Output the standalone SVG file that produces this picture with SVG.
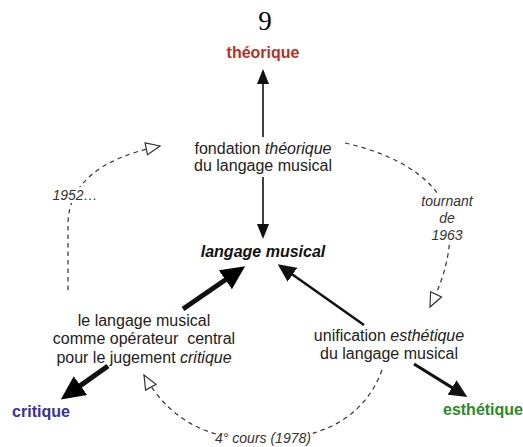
<svg xmlns="http://www.w3.org/2000/svg" width="523" height="447" viewBox="0 0 523 447">
  <defs>
    <style>
      text { font-family: "Liberation Sans", Arial, sans-serif; text-anchor: middle; }
      .node { font-size: 16px; fill: #222; }
      .pole { font-size: 16px; font-weight: bold; }
      .note { font-size: 14px; font-style: italic; fill: #333; stroke: #fff; stroke-width: 6px; stroke-linejoin: round; paint-order: stroke; }
      .link { fill: none; stroke: #111; }
      .dash { fill: none; stroke: #333; stroke-width: 1.2; stroke-dasharray: 4.5 4; }
    </style>
    <!-- filled arrowheads, drawn beyond the end of their line -->
    <marker id="head-s" markerUnits="userSpaceOnUse" viewBox="0 0 15 12" refX="1" refY="6" markerWidth="15" markerHeight="12" orient="auto">
      <path d="M0,0 L15,6 L0,12 Z" fill="#111"/>
    </marker>
    <marker id="head-m" markerUnits="userSpaceOnUse" viewBox="0 0 18 17" refX="1" refY="8.5" markerWidth="18" markerHeight="17" orient="auto">
      <path d="M0,0 L18,8.5 L0,17 Z" fill="#111"/>
    </marker>
    <marker id="head-l" markerUnits="userSpaceOnUse" viewBox="0 0 24 23" refX="1" refY="11.5" markerWidth="24" markerHeight="23" orient="auto">
      <path d="M0,0 L24,11.5 L0,23 Z" fill="#000"/>
    </marker>
    <!-- open arrowhead for the dashed historical paths -->
    <marker id="open" markerUnits="userSpaceOnUse" viewBox="-1 -1 17 14" refX="14" refY="6" markerWidth="17" markerHeight="14" orient="auto">
      <path d="M0,0 L14,6 L0,12 Z" fill="#fff" stroke="#333" stroke-width="1.2"/>
    </marker>
  </defs>

  <rect width="523" height="447" fill="#fff"/>

  <!-- page number -->
  <text x="265" y="30" style="font-family:'Liberation Serif','Times New Roman',serif;font-size:27px;fill:#000">9</text>

  <g id="connectors">
    <!-- solid arrows -->
    <line class="link" x1="263" y1="137" x2="263" y2="83" stroke-width="1.6" marker-end="url(#head-s)"/>
    <line class="link" x1="263" y1="177" x2="263" y2="225" stroke-width="1.6" marker-end="url(#head-s)"/>
    <line class="link" x1="183" y1="309" x2="226.2" y2="279.2" stroke-width="5" marker-end="url(#head-l)"/>
    <line class="link" x1="108" y1="366" x2="79.6" y2="386.1" stroke-width="5" marker-end="url(#head-l)"/>
    <line class="link" x1="364" y1="325" x2="291.7" y2="274.1" stroke-width="2.5" marker-end="url(#head-m)"/>
    <line class="link" x1="414" y1="364" x2="452.9" y2="388.1" stroke-width="3" marker-end="url(#head-m)"/>
    <!-- dashed paths -->
    <path class="dash" d="M68,290 L68,225 Q68,165 160,146" marker-end="url(#open)"/>
    <path class="dash" d="M345,143 C400,155 450,185 450,230 C450,262 440,286 430,307" marker-end="url(#open)"/>
    <path class="dash" d="M382,370 C362,425 310,440 262,440 C215,440 172,425 144,375" marker-end="url(#open)"/>
  </g>

  <g id="label-1952"><text class="note" x="75" y="200">1952…</text></g>
  <g id="label-1963">
    <text class="note" x="447" y="206">tournant</text>
    <text class="note" x="447" y="223">de</text>
    <text class="note" x="447" y="240">1963</text>
  </g>
  <g id="label-1978"><text class="note" x="263" y="443">4° cours (1978)</text></g>

  <g id="theorique"><text class="pole" x="263" y="58" fill="#b3312b">théorique</text></g>
  <g id="critique"><text class="pole" x="41" y="417" fill="#3a2f9e">critique</text></g>
  <g id="esthetique"><text class="pole" x="483" y="415" fill="#2b8a2b">esthétique</text></g>

  <g id="langage">
    <text class="node" x="263" y="257" style="font-weight:bold;font-style:italic;fill:#111">langage musical</text>
  </g>
  <g id="fondation">
    <text class="node" x="263" y="154">fondation <tspan font-style="italic">théorique</tspan></text>
    <text class="node" x="263" y="171">du langage musical</text>
  </g>
  <g id="operateur">
    <text class="node" x="144" y="326">le langage musical</text>
    <text class="node" x="144" y="344" xml:space="preserve">comme opérateur  central</text>
    <text class="node" x="144" y="362.5">pour le jugement <tspan font-style="italic">critique</tspan></text>
  </g>
  <g id="unification">
    <text class="node" x="389" y="341">unification <tspan font-style="italic">esthétique</tspan></text>
    <text class="node" x="389" y="359">du langage musical</text>
  </g>
</svg>
